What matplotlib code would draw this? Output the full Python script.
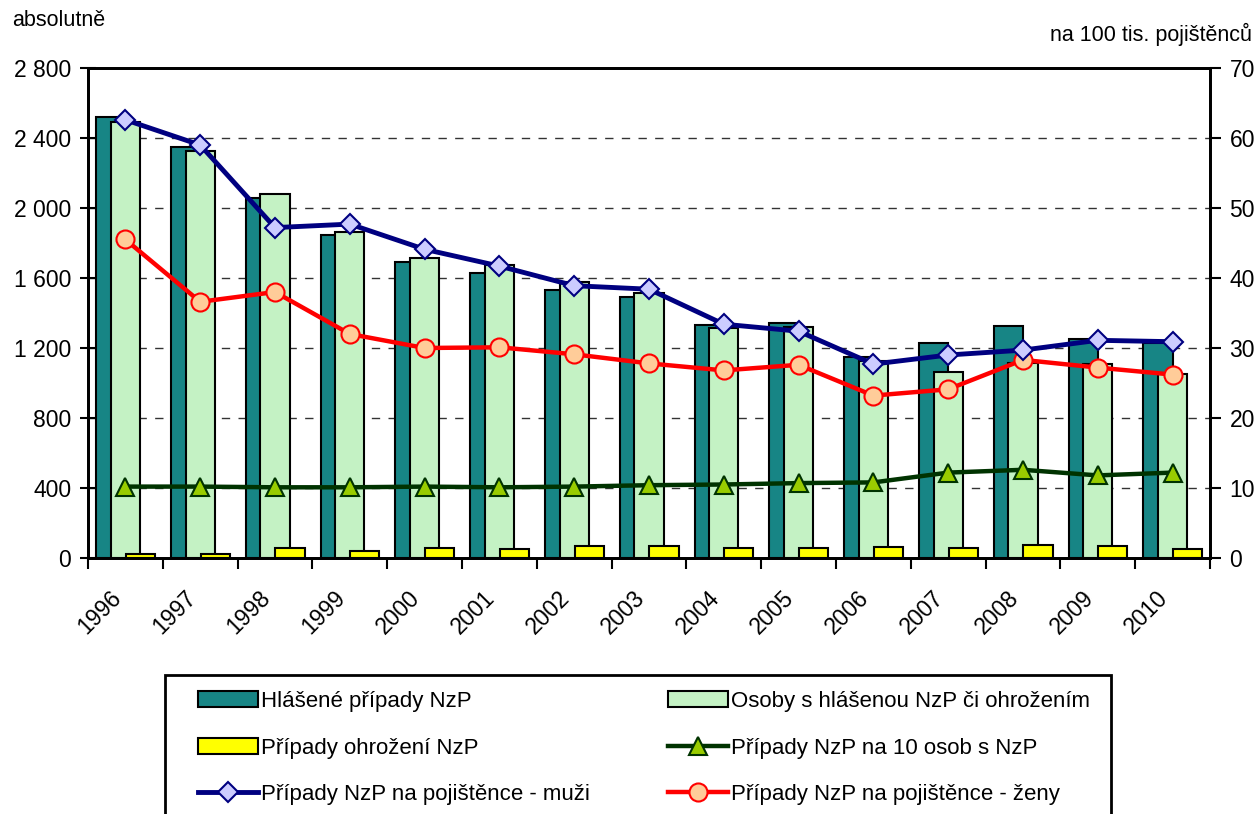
"""Hlášené nemoci z povolání 1996-2010: absolutně a na 100 tis. pojištěnců."""

import matplotlib.pyplot as plt
import matplotlib.patches as mpatches
from matplotlib.lines import Line2D
import numpy as np

plt.rcParams["font.family"] = ["Liberation Sans", "DejaVu Sans"]

years = ["1996", "1997", "1998", "1999", "2000", "2001", "2002", "2003",
         "2004", "2005", "2006", "2007", "2008", "2009", "2010"]

# left axis (absolutně)
hlasene = [2520, 2350, 2055, 1846, 1690, 1630, 1531, 1489,
           1330, 1345, 1150, 1230, 1327, 1250, 1230]
osoby = [2490, 2327, 2080, 1865, 1713, 1675, 1577, 1512,
         1314, 1322, 1126, 1061, 1112, 1107, 1051]
ohrozeni = [23, 23, 55, 42, 59, 50, 68, 71, 57, 57, 65, 59, 74, 67, 51]

# right axis (na 100 tis. pojištěnců)
na10osob = [10.2, 10.2, 10.1, 10.1, 10.2, 10.1, 10.2, 10.4,
            10.5, 10.7, 10.8, 12.2, 12.6, 11.8, 12.2]
muzi = [62.6, 59.0, 47.2, 47.7, 44.1, 41.7, 38.9, 38.4,
        33.4, 32.4, 27.7, 29.0, 29.7, 31.1, 30.9]
zeny = [45.5, 36.6, 38.0, 32.0, 30.0, 30.1, 29.1, 27.8,
        26.8, 27.6, 23.2, 24.1, 28.3, 27.2, 26.2]

DARK = "#178585"
LIGHT = "#C4F2C4"
YELLOW = "#FFFF00"
FS = 16.5

fig = plt.figure(figsize=(12.56, 8.14), dpi=100)
ax = fig.add_axes([88 / 1256, 1 - 558 / 814, (1210 - 88) / 1256, (558 - 68) / 814])
ax2 = ax.twinx()

x = np.arange(len(years))
w = 0.39
ax.bar(x - 0.195, hlasene, w, color=DARK, edgecolor="black", linewidth=1.5, zorder=2)
ax.bar(x, osoby, w, color=LIGHT, edgecolor="black", linewidth=1.5, zorder=2)
ax.bar(x + 0.2, ohrozeni, w, color=YELLOW, edgecolor="black", linewidth=1.5, zorder=2)

ax.set_xlim(-0.5, len(years) - 0.5)
ax.set_ylim(0, 2800)
ax.set_yticks(np.arange(0, 2801, 400))
ax.set_yticklabels([f"{v:,}".replace(",", " ") for v in range(0, 2801, 400)], fontsize=FS)
ax.set_axisbelow(True)
for v in range(400, 2800, 400):
    ax.axhline(v, color="#333333", linewidth=1, dashes=(6, 6), zorder=0)

ax.set_xticks(np.arange(-0.5, len(years), 1))
ax.set_xticklabels([])
ax.tick_params(axis="x", direction="out", length=8, width=1.5)
ax.tick_params(axis="y", direction="inout", length=12, width=1.5, pad=6)
for i, yr in enumerate(years):
    ax.text(i - 0.215, -0.058, yr, transform=ax.get_xaxis_transform(),
            rotation=45, ha="right", va="top", rotation_mode="anchor", fontsize=FS)

ax2.plot(x, na10osob, color="#003300", linewidth=3.2, marker="^", markersize=13,
         markerfacecolor="#99CC00", markeredgecolor="#003300", markeredgewidth=1.5, zorder=3)
ax2.plot(x, zeny, color="#FF0000", linewidth=3.2, marker="o", markersize=13,
         markerfacecolor="#FFCC99", markeredgecolor="#FF0000", markeredgewidth=1.5, zorder=3)
ax2.plot(x, muzi, color="#000080", linewidth=3.5, marker="D", markersize=10.5,
         markerfacecolor="#CCCCFF", markeredgecolor="#000080", markeredgewidth=1.5, zorder=4)
ax2.set_ylim(0, 70)
ax2.set_yticks(np.arange(0, 71, 10))
ax2.tick_params(axis="y", direction="out", length=8, width=1.5, labelsize=FS, pad=6)

for a in (ax, ax2):
    for s in a.spines.values():
        s.set_linewidth(2)

fig.text(12 / 1256, 1 - 21 / 814, "absolutně", fontsize=15.5, va="center", ha="left")
fig.text(1252 / 1256, 1 - 34 / 814, "na 100 tis. pojištěnců", fontsize=15.5,
         va="center", ha="right")

h_dark = mpatches.Patch(facecolor=DARK, edgecolor="black", linewidth=1.5)
h_light = mpatches.Patch(facecolor=LIGHT, edgecolor="black", linewidth=1.5)
h_yellow = mpatches.Patch(facecolor=YELLOW, edgecolor="black", linewidth=1.5)
h_green = Line2D([], [], color="#003300", linewidth=3.2, marker="^", markersize=13,
                 markerfacecolor="#99CC00", markeredgecolor="#003300", markeredgewidth=1.5)
h_blue = Line2D([], [], color="#000080", linewidth=3.5, marker="D", markersize=10.5,
                markerfacecolor="#CCCCFF", markeredgecolor="#000080", markeredgewidth=1.5)
h_red = Line2D([], [], color="#FF0000", linewidth=3.2, marker="o", markersize=13,
               markerfacecolor="#FFCC99", markeredgecolor="#FF0000", markeredgewidth=1.5)

leg_kw = dict(loc="upper left", frameon=False, fontsize=16, handlelength=2.7,
              handleheight=0.75, handletextpad=0.15, labelspacing=1.15,
              borderpad=0, borderaxespad=0)
fig.legend([h_dark, h_yellow, h_blue],
           ["Hlášené případy NzP", "Případy ohrožení NzP", "Případy NzP na pojištěnce - muži"],
           bbox_to_anchor=(198 / 1256, 1 - 691 / 814), **leg_kw)
fig.legend([h_light, h_green, h_red],
           ["Osoby s hlášenou NzP či ohrožením", "Případy NzP na 10 osob s NzP",
            "Případy NzP na pojištěnce - ženy"],
           bbox_to_anchor=(668 / 1256, 1 - 691 / 814), **leg_kw)
fig.add_artist(mpatches.Rectangle((165 / 1256, -0.05), (1111 - 165) / 1256,
                                  (814 - 675) / 814 + 0.05, transform=fig.transFigure,
                                  fill=False, edgecolor="black", linewidth=2))

fig.savefig("out.png", dpi=100)
